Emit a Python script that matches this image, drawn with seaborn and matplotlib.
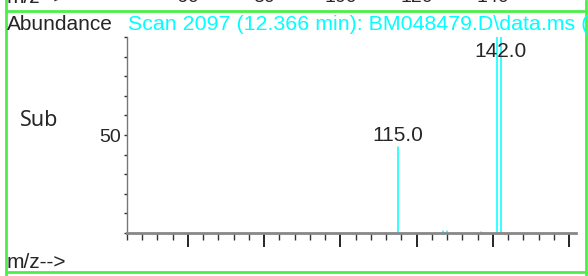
import matplotlib
matplotlib.use('Agg')
import matplotlib.pyplot as plt
from matplotlib.lines import Line2D
import seaborn as sns
import pandas as pd

# espectro de masas (scan 2097)
mz = [115, 127, 128, 137, 141, 142]
abundancia = [44, 1.2, 1.2, 0.6, 115, 115]
etiquetas = {115: '115.0', 142: '142.0'}
ticks_mayores = [60, 80, 100, 120, 140, 160]
titulo = 'Scan 2097 (12.366 min): BM048479.D\\data.ms (-2090) (-)'

sns.set_style('white')
plt.rcParams['font.family'] = ['Liberation Sans', 'DejaVu Sans']

# cada pico = 2 puntos (base y altura)
filas = []
for i, (m, a) in enumerate(zip(mz, abundancia)):
    filas.append({'pico': i, 'mz': m, 'ab': 0})
    filas.append({'pico': i, 'mz': m, 'ab': a})
df = pd.DataFrame(filas)

fig = plt.figure(figsize=(5.88, 2.76), dpi=100)
ax = fig.add_axes([127/588, 43/276, 449/588, 196/276])
sns.lineplot(data=df, x='mz', y='ab', units='pico', estimator=None,
             color='#00ffff', linewidth=1.1, ax=ax, legend=False)

ax.set_xlim(44, 161.8)
ax.set_ylim(0, 100)
ax.set_xlabel('')
ax.set_ylabel('')
for s in ['top', 'right']:
    ax.spines[s].set_visible(False)
ax.spines['left'].set_color('#777777')
ax.spines['left'].set_linewidth(1)
ax.spines['bottom'].set_color('#888888')
ax.spines['bottom'].set_linewidth(2)

ax.set_xticks(ticks_mayores)
ax.set_xticklabels([])
ax.set_xticks(list(range(44, 162, 4)), minor=True)
ax.tick_params(axis='x', which='major', direction='out', length=10, width=1.2,
               color='black', bottom=True)
ax.tick_params(axis='x', which='minor', direction='out', length=5, width=1,
               color='#333333', bottom=True)
ax.set_yticks([50])
ax.set_yticklabels(['50'])
ax.set_yticks(list(range(0, 101, 10)), minor=True)
ax.tick_params(axis='y', which='both', direction='out', length=2.5, width=1,
               color='#333333', left=True, labelsize=14, pad=2)

# etiquetas de picos (las recortadas se quedan dentro del eje)
for m, a in zip(mz, abundancia):
    if m in etiquetas:
        ax.annotate(etiquetas[m], (m, min(a, 87)), xytext=(0, 1),
                    textcoords='offset points', ha='center', va='bottom',
                    fontsize=15, clip_on=False)

# textos de la figura
fig.text(7/588, 1 - 30/276, 'Abundance', fontsize=15, va='baseline')
fig.text(128/588, 1 - 30/276, titulo, fontsize=15.4, va='baseline', color='#00ffff')
fig.text(20/588, 1 - 126/276, 'Sub', fontsize=15.5, va='baseline', family='Noto Sans')
fig.text(7/588, 1 - 268/276, 'm/z-->', fontsize=15, va='baseline')

# restos del panel superior (cortados)
fig.text(7/588, 1 - 3/276, 'm/z-->', fontsize=15, va='baseline')
for t in ticks_mayores[:-1]:
    xp = (127 + (t - 44) * 449 / (161.8 - 44)) / 588
    fig.text(xp, 1 - 2/276, str(t), fontsize=14, va='baseline', ha='center')

# marco verde
verde = '#4cee4c'
fig.add_artist(Line2D([6/588, 6/588], [0, 1], transform=fig.transFigure, color=verde, lw=2))
fig.add_artist(Line2D([586/588, 586/588], [0, 1], transform=fig.transFigure, color=verde, lw=2))
fig.add_artist(Line2D([6/588, 586/588], [1 - 11/276, 1 - 11/276], transform=fig.transFigure, color=verde, lw=2))
fig.add_artist(Line2D([6/588, 586/588], [1 - 272/276, 1 - 272/276], transform=fig.transFigure, color=verde, lw=2))

fig.savefig('out.png', dpi=100)
